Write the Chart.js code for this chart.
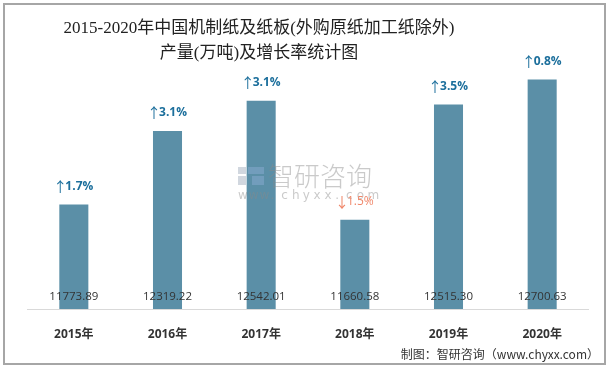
<!DOCTYPE html>
<html><head><meta charset="utf-8">
<script src="https://cdn.jsdelivr.net/npm/chart.js@4"></script>
<style>
html,body{margin:0;padding:0;background:#fff;}
#wrap{position:relative;width:614px;height:370px;}
#frame{position:absolute;left:3px;top:3px;width:603px;height:362px;border:2px solid #a6a6a6;box-sizing:border-box;pointer-events:none;}
</style></head>
<body><div id="wrap"><canvas id="c" width="614" height="370"></canvas><div id="frame"></div></div>
<script>
const categories = ['2015年','2016年','2017年','2018年','2019年','2020年'];
const production = [11773.89, 12319.22, 12542.01, 11660.58, 12515.30, 12700.63];
const growth = [1.7, 3.1, 3.1, -1.5, 3.5, 0.8];
const titleLines = ['2015-2020年中国机制纸及纸板(外购原纸加工纸除外)', '产量(万吨)及增长率统计图'];
const sourceText = '制图：智研咨询（www.chyxx.com）';

const overlay = {
  id: 'overlay',
  afterDatasetsDraw(chart) {
    const ctx = chart.ctx;
    const meta = chart.getDatasetMeta(0);
    const y = chart.scales.y;
    ctx.save();
    // watermark
    ctx.globalAlpha = 0.45;
    ctx.fillStyle = '#9aa6b8';
    ctx.fillRect(238, 167, 8, 7); ctx.fillRect(238, 176, 8, 9);
    ctx.fillStyle = '#8fb0d8';
    ctx.fillRect(248, 167, 16, 7); ctx.fillRect(252, 176, 12, 9);
    ctx.fillStyle = '#8a8a8a';
    ctx.font = '300 26px "Noto Sans CJK SC"';
    ctx.textAlign = 'left'; ctx.textBaseline = 'middle';
    ctx.fillText('智研咨询', 268, 176);
    ctx.font = '12px "DejaVu Sans"';
    const w = 'www.chyxx.com';
    for (let i = 0; i < w.length; i++) ctx.fillText(w[i], 238 + i * 10.8, 196);
    ctx.globalAlpha = 1;
    // value labels & growth labels
    meta.data.forEach((bar, i) => {
      ctx.textAlign = 'center'; ctx.textBaseline = 'middle';
      ctx.fillStyle = '#333333';
      ctx.font = '11.5px "Open Sans"';
      ctx.fillText(production[i].toFixed(2), bar.x, y.bottom - 12);
      const g = growth[i];
      const up = g >= 0;
      const txt = Math.abs(g).toFixed(1) + '%';
      ctx.fillStyle = up ? '#1c6f9c' : '#f0876a';
      const tf = (up ? 'bold ' : '') + '12px "Open Sans"';
      ctx.font = tf;
      const tw = ctx.measureText(txt).width;
      ctx.font = '14px "Noto Sans CJK SC"';
      const aw = 11;
      const x0 = bar.x - (tw + aw) / 2;
      ctx.textAlign = 'left';
      ctx.fillText(up ? '↑' : '↓', x0 - 1, bar.y - 18);
      ctx.font = tf;
      ctx.fillText(txt, x0 + aw, bar.y - 18);
    });
    // baseline
    ctx.strokeStyle = '#d9d9d9'; ctx.lineWidth = 1;
    ctx.beginPath(); ctx.moveTo(chart.chartArea.left, y.bottom + 0.5); ctx.lineTo(chart.chartArea.right, y.bottom + 0.5); ctx.stroke();
    // title
    ctx.fillStyle = '#222222';
    ctx.font = '17px "Liberation Serif", "Noto Sans CJK SC"';
    ctx.textAlign = 'center';
    ctx.fillText(titleLines[0], 259, 29);
    ctx.fillText(titleLines[1], 259, 54);
    // source
    ctx.font = '12px "Noto Sans CJK SC"';
    ctx.fillStyle = '#333333';
    ctx.textAlign = 'right';
    ctx.fillText(sourceText, 599, 354);
    ctx.restore();
  }
};

new Chart(document.getElementById('c'), {
  type: 'bar',
  data: {
    labels: categories,
    datasets: [{
      data: production,
      backgroundColor: '#5b8fa7',
      borderWidth: 0,
      barPercentage: 0.31,
      categoryPercentage: 1.0
    }]
  },
  options: {
    responsive: false,
    animation: false,
    devicePixelRatio: 1,
    layout: { padding: { left: 27, right: 25, top: 39, bottom: 0 } },
    plugins: { legend: { display: false }, tooltip: { enabled: false }, title: { display: false } },
    scales: {
      x: {
        grid: { display: false },
        border: { display: false },
        ticks: { color: '#333333', font: { family: '"Open Sans", "Noto Sans CJK SC"', size: 12, weight: 'bold' }, padding: 10 },
        afterFit(s) { s.height = 61; }
      },
      y: {
        display: false,
        min: 11000,
        max: 13000
      }
    }
  },
  plugins: [overlay]
});
</script>
</body></html>
